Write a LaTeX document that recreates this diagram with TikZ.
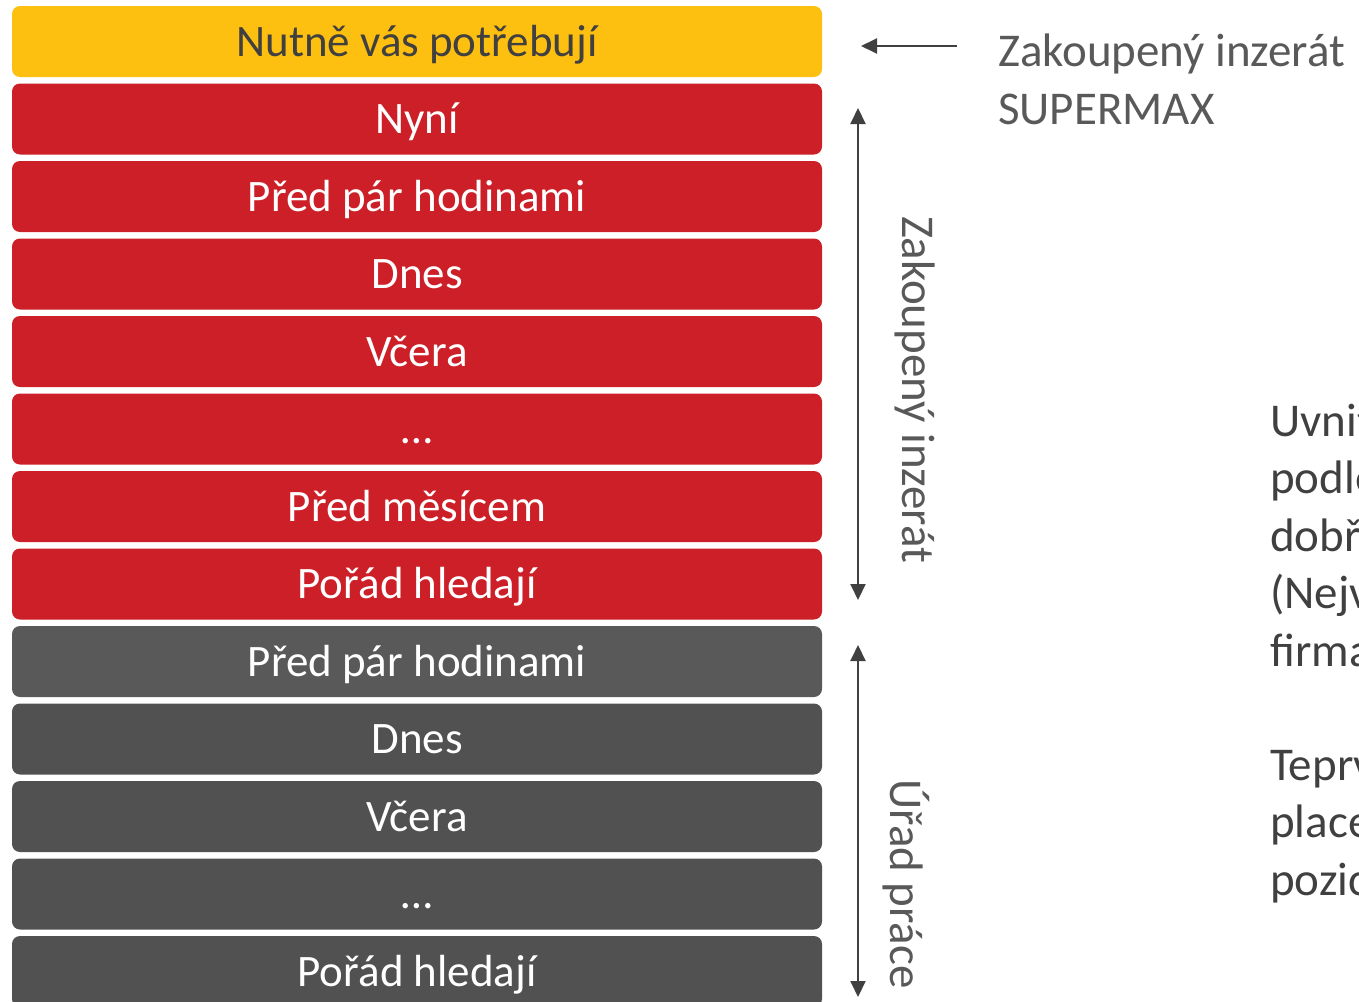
\documentclass[tikz,border=0pt]{standalone}
\usepackage{fontspec}
\setmainfont{Carlito}
\usetikzlibrary{arrows.meta}
\definecolor{supermax}{RGB}{254,192,16}
\definecolor{paidred}{RGB}{204,31,39}
\definecolor{uradgrey}{RGB}{89,89,89}
\definecolor{uraddark}{RGB}{81,81,81}
\definecolor{ink}{RGB}{64,64,64}
\definecolor{notegrey}{RGB}{89,89,89}
\tikzset{
  bar/.style={rounded corners=8pt, minimum width=810pt, minimum height=71pt,
    inner sep=0pt, text=white, font=\fontsize{45}{54}\selectfont,
    text height=34pt, text depth=5pt},
  top bar/.style={bar, fill=supermax, text=ink},
  paid bar/.style={bar, fill=paidred},
  free bar/.style={bar, fill=uradgrey},
  late bar/.style={bar, fill=uraddark},
  span/.style={draw=ink, line width=2pt, >={Triangle[length=16pt,width=15pt]}},
  side label/.style={text=notegrey, font=\fontsize{47}{57.5}\selectfont, inner sep=0pt},
}

\begin{document}
\begin{tikzpicture}[x=1pt,y=-1pt]
\clip (0,0) rectangle (1359,1001);
\foreach \i/\txt/\kind in {0/Nutně vás potřebují/top bar, 1/Nyní/paid bar,
  2/Před pár hodinami/paid bar, 3/Dnes/paid bar, 4/Včera/paid bar, 5/…/paid bar,
  6/Před měsícem/paid bar, 7/Pořád hledají/paid bar, 8/Před pár hodinami/free bar,
  9/Dnes/late bar, 10/Včera/late bar, 11/…/late bar, 12/Pořád hledají/late bar}
{
  \node[\kind] (bar\i) at (417,41.5+77.5*\i) {\txt};
}
\coordinate (noteEnd) at (957,46);
\coordinate (noteTip) at (861,46);
\coordinate (paidTop) at (858,108);
\coordinate (paidBot) at (858,600);
\coordinate (freeTop) at (858,645);
\coordinate (freeBot) at (858,997);
\draw[span,->] (noteEnd) -- (noteTip);
\draw[span,<->] (paidTop) -- (paidBot);
\draw[span,<->] (freeTop) -- (freeBot);
\node[side label, anchor=base west, align=left] (note) at (998,124) {Zakoupený inzerát\\SUPERMAX};
\node[side label, rotate=-90, anchor=base] (paidLbl) at (902,389.5) {Zakoupený inzerát};
\node[side label, rotate=-90, anchor=base] (freeLbl) at (890,884) {Úřad práce};
\node[side label, text=ink, anchor=base west, align=left] (rank) at (1270,666) {Uvnitř\\podle\\dobře\\(Nejv\\firma};
\node[side label, text=ink, anchor=base west, align=left] (first) at (1270,895) {Teprve\\place\\pozic};
\end{tikzpicture}
\end{document}
